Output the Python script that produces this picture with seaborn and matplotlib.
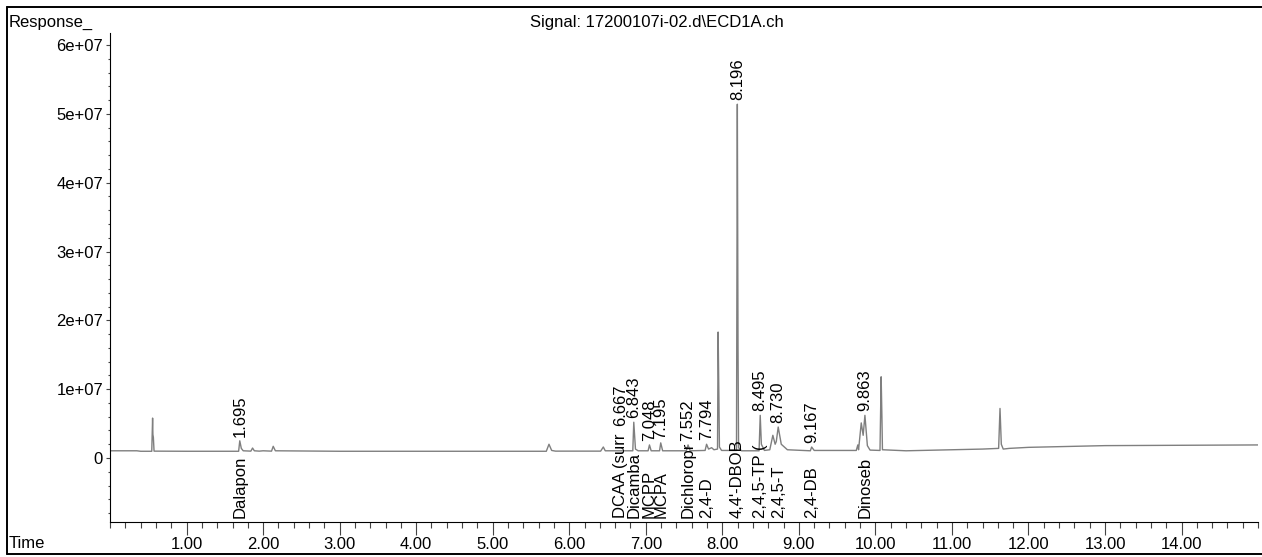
import numpy as np
import pandas as pd
import matplotlib.pyplot as plt
import matplotlib.transforms as mtransforms
from matplotlib.lines import Line2D
from matplotlib.ticker import MultipleLocator, FuncFormatter
import seaborn as sns

# chromatogram trace (time in min, response in millions)
times = [0.00, 0.35, 0.40, 0.545, 0.556, 0.560, 0.566, 0.575, 1.00, 1.36,
         1.68, 1.695, 1.715, 1.74, 1.84, 1.862, 1.885, 1.95, 2.00, 2.11,
         2.132, 2.16, 3.00, 5.70, 5.735, 5.77, 5.82, 6.41, 6.445, 6.47,
         6.83, 6.843, 6.865, 6.90, 7.03, 7.048, 7.07, 7.18, 7.195, 7.22,
         7.53, 7.552, 7.58, 7.775, 7.794, 7.82, 7.86, 7.89, 7.937, 7.945,
         7.955, 7.962, 7.99, 8.185, 8.196, 8.205, 8.212, 8.25, 8.48, 8.495,
         8.51, 8.55, 8.62, 8.66, 8.69, 8.705, 8.730, 8.77, 8.85, 9.15,
         9.167, 9.20, 9.75, 9.77, 9.78, 9.815, 9.84, 9.863, 9.895, 9.93,
         10.06, 10.075, 10.085, 10.092, 10.40, 11.40, 11.61, 11.628, 11.645, 11.67,
         11.75, 12.00, 13.00, 15.00]
response_m = [1.05, 1.05, 0.98, 0.98, 5.8, 3.4, 3.0, 1.0, 0.98, 0.98,
              0.98, 2.5, 1.4, 1.05, 1.0, 1.45, 1.05, 1.0, 1.05, 1.0,
              1.7, 1.05, 0.98, 0.98, 2.0, 1.1, 1.0, 1.0, 1.6, 1.05,
              1.05, 5.2, 1.3, 1.05, 1.05, 1.9, 1.05, 1.05, 2.2, 1.05,
              1.05, 1.9, 1.05, 1.1, 2.0, 1.3, 1.5, 1.2, 1.3, 18.3,
              9.0, 1.6, 1.1, 1.1, 51.4, 16.0, 1.5, 1.05, 1.05, 6.2,
              2.0, 1.1, 1.2, 3.3, 2.0, 2.4, 4.5, 2.0, 1.2, 1.05,
              1.6, 1.1, 1.1, 1.9, 1.2, 5.1, 3.3, 6.2, 1.8, 1.15,
              1.1, 11.8, 6.0, 1.2, 1.05, 1.3, 1.4, 7.2, 2.0, 1.3,
              1.4, 1.55, 1.8, 1.9]

# identified compounds and retention times
compounds = ["Dalapon", "DCAA (surr", "Dicamba", "MCPP", "MCPA", "Dichloropr",
             "2,4-D", "4,4'-DBOB", "2,4,5-TP (", "2,4,5-T", "2,4-DB", "Dinoseb"]
rts = [1.695, 6.667, 6.843, 7.048, 7.195, 7.552,
       7.794, 8.196, 8.495, 8.730, 9.167, 9.863]
# height used for a label with no visible peak under it
no_peak_label_height = 4.0e6

y_ticks = [0, 1e7, 2e7, 3e7, 4e7, 5e7, 6e7]
x_ticks = [1, 2, 3, 4, 5, 6, 7, 8, 9, 10, 11, 12, 13, 14]

df = pd.DataFrame({"time": times, "response": np.array(response_m) * 1e6})

sns.set_style("ticks")
plt.rcParams["font.family"] = ["Liberation Sans", "DejaVu Sans"]
plt.rcParams["font.size"] = 12
plt.rcParams["text.color"] = "black"
plt.rcParams["xtick.color"] = "black"
plt.rcParams["ytick.color"] = "black"

fig = plt.figure(figsize=(12.62, 5.57), dpi=100)
ax = fig.add_axes([0.0872, 0.0634, 0.9097, 0.8774])

sns.lineplot(data=df, x="time", y="response", ax=ax, color="#7f7f7f",
             linewidth=1.0, estimator=None, sort=False)

ax.set_xlim(0, 15.0)
ax.set_ylim(-0.925e7, 6.175e7)
ax.set_xlabel("")
ax.set_ylabel("")
sns.despine(ax=ax)
for side in ["left", "bottom"]:
    ax.spines[side].set_linewidth(0.8)
    ax.spines[side].set_color("black")

ax.set_xticks(x_ticks)
ax.xaxis.set_minor_locator(MultipleLocator(0.2))
ax.xaxis.set_major_formatter(FuncFormatter(lambda v, p: f"{v:.2f}"))
ax.set_yticks(y_ticks)
ax.yaxis.set_minor_locator(MultipleLocator(2e6))
ax.yaxis.set_major_formatter(FuncFormatter(lambda v, p: "0" if v == 0 else f"{v:.0e}"))
ax.tick_params(axis="x", which="major", length=9, width=0.8, pad=2, labelsize=12,
               color="#444444", labelcolor="black")
ax.tick_params(axis="x", which="minor", length=4, width=0.8, color="#444444")
ax.tick_params(axis="y", which="major", length=3, width=0.8, pad=2, labelsize=12,
               color="#444444", labelcolor="black")
ax.tick_params(axis="y", which="minor", length=1.5, width=0.8, color="#444444")

# retention time labels above the peaks, names along the bottom
tr = mtransforms.blended_transform_factory(ax.transData, ax.transAxes)
t_arr = df["time"].to_numpy()
r_arr = df["response"].to_numpy()
for name, rt in zip(compounds, rts):
    near = np.abs(t_arr - rt) <= 0.02
    top = r_arr[near].max() if near.any() else no_peak_label_height
    ax.annotate(f"{rt:.3f}", xy=(rt, top), xytext=(0, 3), textcoords="offset points",
                rotation=90, ha="center", va="bottom", fontsize=12, color="black")
    ax.text(rt, 0.008, name, transform=tr, rotation=90, ha="center", va="bottom",
            fontsize=12, color="black")

fig.text(9 / 1262, 1 - 27 / 557, "Response_", ha="left", va="baseline", fontsize=12)
fig.text(530 / 1262, 1 - 27 / 557, "Signal: 17200107i-02.d\\ECD1A.ch", ha="left", va="baseline", fontsize=12)
fig.text(9 / 1262, 1 - 548 / 557, "Time", ha="left", va="baseline", fontsize=12)

# page frame
x0, ytop, ybot = 7 / 1262, 1 - 7 / 557, 1 - 554 / 557
fig.add_artist(Line2D([x0, 1], [ytop, ytop], color="black", linewidth=1.4))
fig.add_artist(Line2D([x0, 1], [ybot, ybot], color="black", linewidth=1.4))
fig.add_artist(Line2D([x0, x0], [ybot, ytop], color="black", linewidth=1.4))

fig.savefig("out.png", dpi=100)
